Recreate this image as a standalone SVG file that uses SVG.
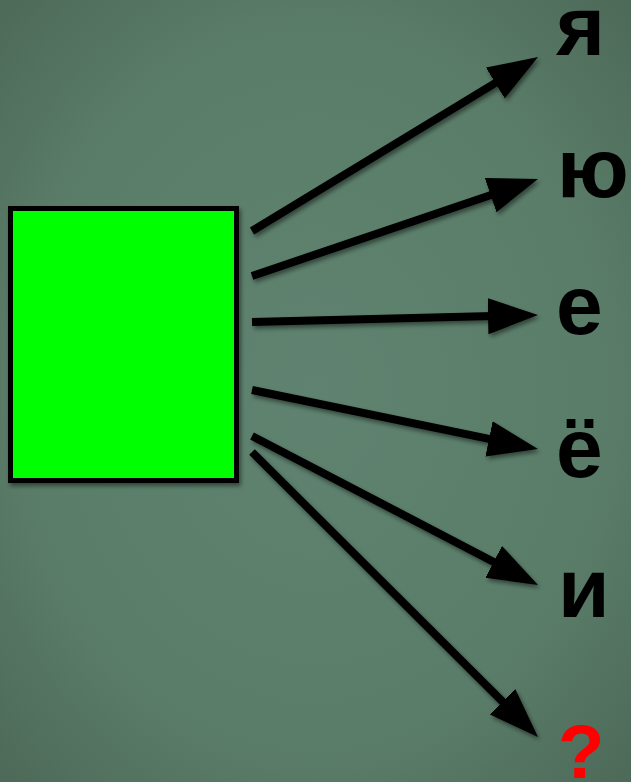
<svg xmlns="http://www.w3.org/2000/svg" width="631" height="782" viewBox="0 0 631 782">
<defs>
<radialGradient id="bg" cx="50%" cy="50%" r="75%">
<stop offset="0" stop-color="#5f8370"/>
<stop offset="0.6" stop-color="#5a7d69"/>
<stop offset="1" stop-color="#4b6656"/>
</radialGradient>
<filter id="sh" x="-20%" y="-20%" width="140%" height="140%">
<feDropShadow dx="2" dy="3" stdDeviation="2" flood-color="#000" flood-opacity="0.45"/>
</filter>
<marker id="ah" markerUnits="userSpaceOnUse" markerWidth="52" markerHeight="38" refX="5" refY="18" orient="auto" viewBox="0 0 52 38">
<path d="M0,0 L50,18 L0,36 z" fill="#000"/>
</marker>
<style>
.lbl{font-family:"Liberation Sans",Arial,sans-serif;font-weight:bold;font-size:84px;fill:#000}
.q{fill:#ff0000;font-size:76px}
.arr{stroke:#000;stroke-width:8;fill:none;marker-end:url(#ah)}
</style>
</defs>
<rect width="631" height="782" fill="url(#bg)"/>
<g id="box" filter="url(#sh)">
<rect x="10.5" y="208.5" width="226" height="272" fill="#00ff00" stroke="#000" stroke-width="5"/>
</g>
<g id="connectors" filter="url(#sh)">
<path class="arr" d="M252,231 L499.6,80.4"/>
<path class="arr" d="M252,276 L495.4,193.5"/>
<path class="arr" d="M252,322 L493,316.1"/>
<path class="arr" d="M252,390 L493.9,439.9"/>
<path class="arr" d="M252,436 L498.1,564.2"/>
<path class="arr" d="M252,452 L506.1,705.2"/>
</g>
<g id="n-ya"><text class="lbl" x="556" y="55">я</text></g>
<g id="n-yu"><text class="lbl" x="557" y="197">ю</text></g>
<g id="n-e"><text class="lbl" x="556" y="334">е</text></g>
<g id="n-yo"><text class="lbl" x="556" y="477">ё</text></g>
<g id="n-i"><text class="lbl" x="558" y="617">и</text></g>
<g id="n-q"><text class="lbl q" x="558" y="778">?</text></g>
</svg>
